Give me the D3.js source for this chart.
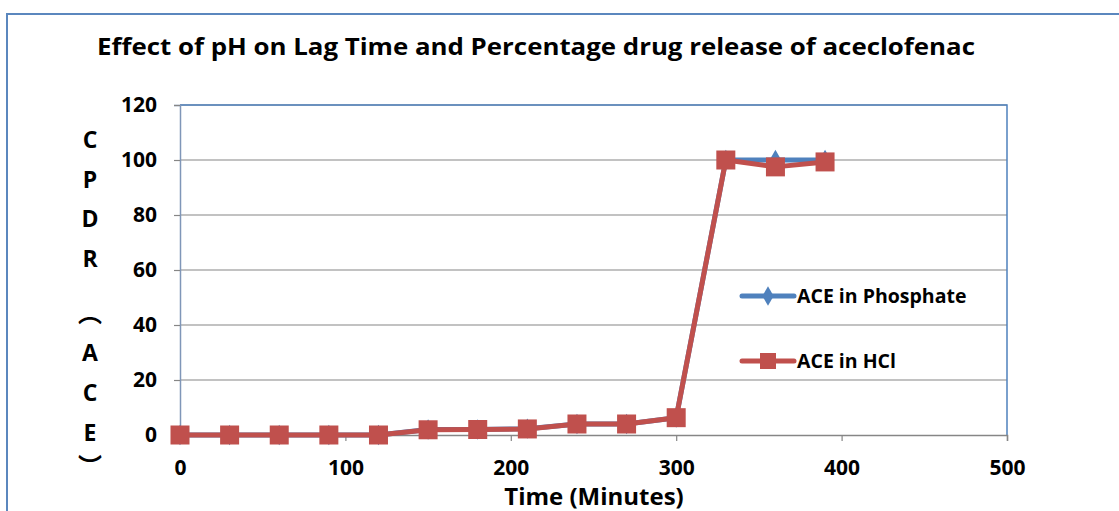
<!DOCTYPE html>
<html>
<head>
<meta charset="utf-8">
<script src="https://cdn.jsdelivr.net/npm/d3@7"></script>
<style>
  body { margin: 0; background: #fff; }
  text { font-family: "Open Sans", "Liberation Sans", sans-serif; font-weight: bold; fill: #000; }
</style>
</head>
<body>
<div id="chart"></div>
<script>
// chart data
const times = [0, 30, 60, 90, 120, 150, 180, 210, 240, 270, 300, 330, 360, 390];
const phosphate = [0, 0, 0, 0, 0, 2, 2, 2.3, 4, 4, 6.3, 100, 100, 100];
const hcl = [0, 0, 0, 0, 0, 1.9, 2, 2.2, 4, 4, 6.3, 100, 97.5, 99.3];
const seriesNames = ['ACE in Phosphate', 'ACE in HCl'];
const xTicks = [0, 100, 200, 300, 400, 500];
const yTicks = [0, 20, 40, 60, 80, 100, 120];
// stacked axis title, parentheses in their vertical forms
const yTitle = ['C', 'P', 'D', 'R', '\uFE35', 'A', 'C', 'E', '\uFE36'];

const width = 1119, height = 511;
const plot = { left: 180, right: 1007, top: 105, bottom: 435 };
const blue = '#4F81BD', red = '#C0504D';

const svg = d3.select('#chart').append('svg')
    .attr('width', width)
    .attr('height', height);

// outer chart border
svg.append('rect')
    .attr('x', 7).attr('y', 14)
    .attr('width', 1120).attr('height', 520)
    .attr('fill', 'none')
    .attr('stroke', '#5B87BE')
    .attr('stroke-width', 2);

const x = d3.scaleLinear().domain([0, 500]).range([plot.left, plot.right]);
const y = d3.scaleLinear().domain([0, 120]).range([plot.bottom, plot.top]);

// gridlines
svg.append('g')
    .selectAll('line')
    .data(yTicks.filter(d => d > 0))
    .join('line')
    .attr('x1', plot.left).attr('x2', plot.right)
    .attr('y1', d => y(d)).attr('y2', d => y(d))
    .attr('stroke', '#868686')
    .attr('stroke-width', 1.2);

// plot area border (top / right in blue)
svg.append('path')
    .attr('d', `M${plot.left},${plot.top}H${plot.right}V${plot.bottom}`)
    .attr('fill', 'none')
    .attr('stroke', blue)
    .attr('stroke-width', 1.5);

// axes
const xAxis = svg.append('g')
    .attr('transform', `translate(0,${plot.bottom})`)
    .call(d3.axisBottom(x).tickValues(xTicks).tickSize(6).tickPadding(19));
const yAxis = svg.append('g')
    .attr('transform', `translate(${plot.left},0)`)
    .call(d3.axisLeft(y).tickValues(yTicks).tickSize(6).tickPadding(17));

xAxis.select('.domain').attr('stroke', '#868686').attr('stroke-width', 1.5);
yAxis.select('.domain').attr('stroke', '#7F96B8').attr('stroke-width', 1.5);
svg.selectAll('.tick line').attr('stroke', '#868686').attr('stroke-width', 1.2);
svg.selectAll('.tick text')
    .style('font-family', '"Open Sans", sans-serif')
    .style('font-weight', 'bold')
    .style('font-size', '21px')
    .attr('fill', '#000');

// series lines
const line = d3.line()
    .x((d, i) => x(times[i]))
    .y(d => y(d));

svg.append('path')
    .datum(phosphate)
    .attr('d', line)
    .attr('fill', 'none')
    .attr('stroke', blue)
    .attr('stroke-width', 5)
    .attr('stroke-linejoin', 'round');

svg.append('g')
    .selectAll('path')
    .data(phosphate)
    .join('path')
    .attr('transform', (d, i) => `translate(${x(times[i])},${y(d)})`)
    .attr('d', d3.symbol(d3.symbolDiamond, 120))
    .attr('fill', blue);

svg.append('path')
    .datum(hcl)
    .attr('d', line)
    .attr('fill', 'none')
    .attr('stroke', red)
    .attr('stroke-width', 5)
    .attr('stroke-linejoin', 'round');

svg.append('g')
    .selectAll('rect')
    .data(hcl)
    .join('rect')
    .attr('x', (d, i) => x(times[i]) - 9.5)
    .attr('y', d => y(d) - 9.5)
    .attr('width', 19).attr('height', 19)
    .attr('fill', red);

// legend
const legend = svg.append('g');
const legendY = [296, 361];
seriesNames.forEach((name, i) => {
    const g = legend.append('g').attr('transform', `translate(742,${legendY[i]})`);
    g.append('line')
        .attr('x1', 0).attr('x2', 52)
        .attr('stroke', i === 0 ? blue : red)
        .attr('stroke-width', 5)
        .attr('stroke-linecap', 'round');
    if (i === 0) {
        g.append('path')
            .attr('transform', 'translate(26,0)')
            .attr('d', d3.symbol(d3.symbolDiamond, 110))
            .attr('fill', blue);
    } else {
        g.append('rect')
            .attr('x', 18).attr('y', -8)
            .attr('width', 16).attr('height', 16)
            .attr('fill', red);
    }
    g.append('text')
        .attr('x', 55).attr('y', 7)
        .style('font-size', '19.5px')
        .text(name);
});

// title
svg.append('text')
    .attr('x', 536).attr('y', 55)
    .attr('text-anchor', 'middle')
    .attr('textLength', 878)
    .attr('lengthAdjust', 'spacingAndGlyphs')
    .style('font-size', '23px')
    .text('Effect of pH on Lag Time and Percentage drug release of aceclofenac');

// x axis title
svg.append('text')
    .attr('x', 594).attr('y', 505)
    .attr('text-anchor', 'middle')
    .style('font-size', '24px')
    .text('Time (Minutes)');

// y axis title, one character per row
const charY = [139, 178.5, 218, 257.5, 311, 352, 392, 432, 464];
yTitle.forEach((ch, i) => {
    const paren = ch === '\uFE35' || ch === '\uFE36';
    svg.append('text')
        .attr('x', 90).attr('y', charY[i])
        .attr('text-anchor', 'middle')
        .attr('dominant-baseline', 'central')
        .style('font-family', paren ? '"Noto Sans CJK SC", sans-serif' : null)
        .style('font-size', paren ? '24px' : '23px')
        .text(ch);
});
</script>
</body>
</html>
